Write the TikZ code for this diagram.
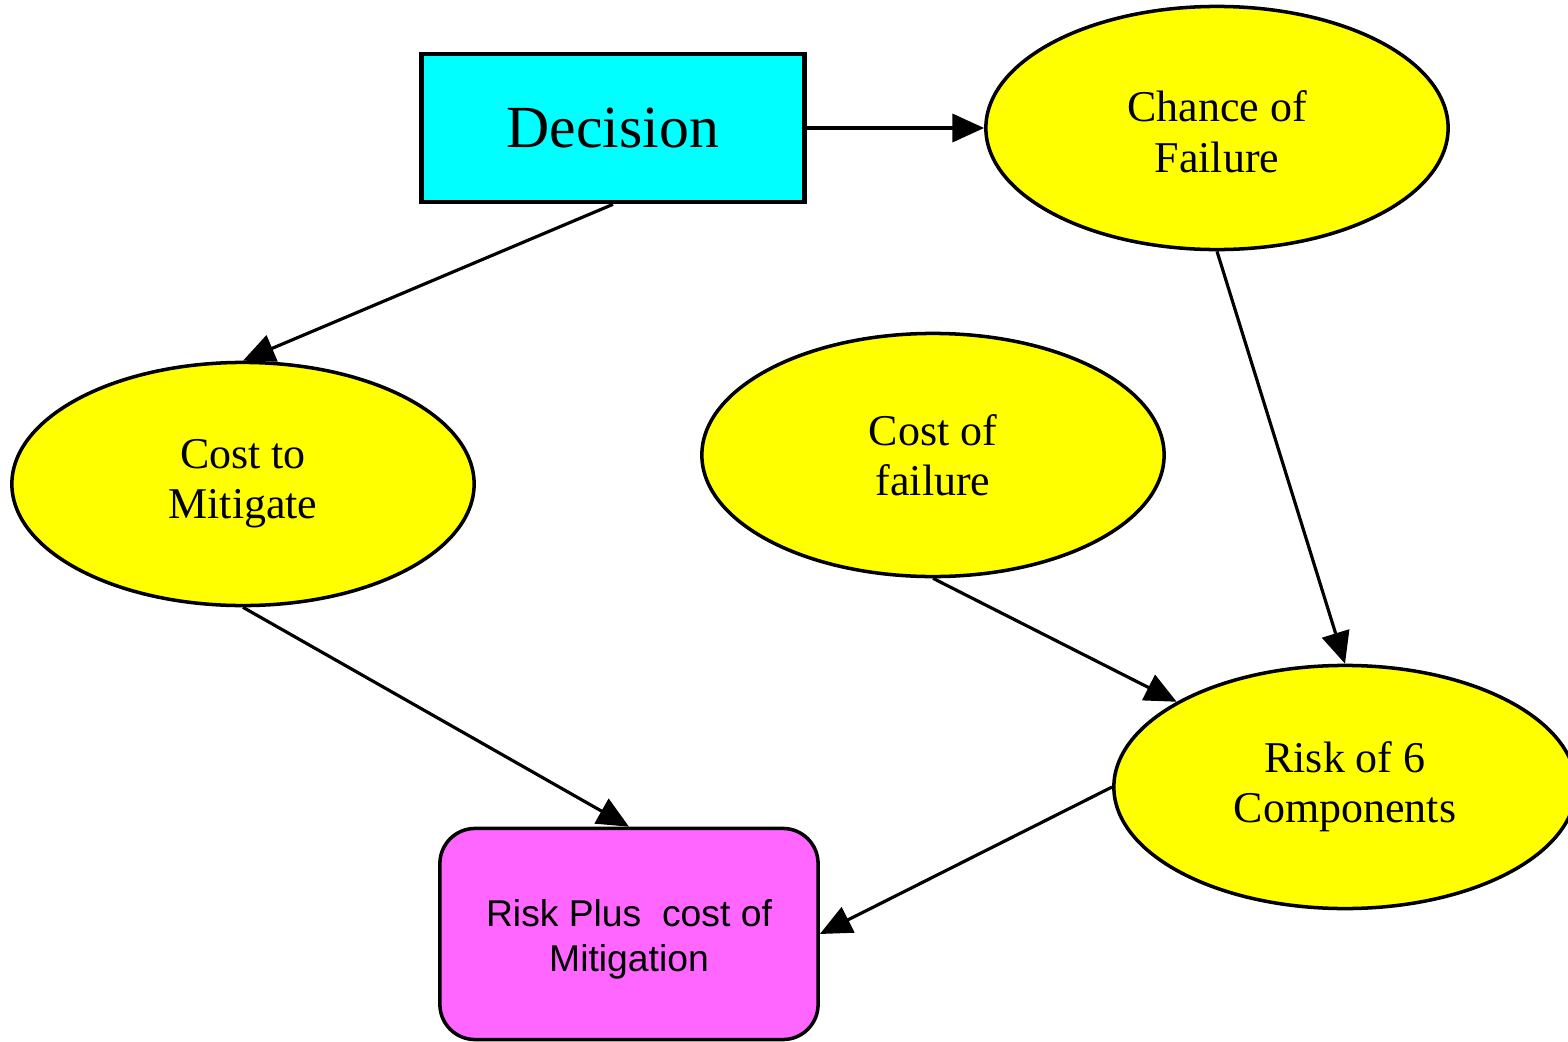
\documentclass[tikz,border=0pt]{standalone}
\usepackage{fontspec}
\setmainfont{Liberation Serif}
\newfontfamily\arialfont{Liberation Sans}
\usetikzlibrary{shapes.geometric,arrows.meta}

\definecolor{decfill}{RGB}{0,255,255}
\definecolor{chancefill}{RGB}{255,255,0}
\definecolor{valuefill}{RGB}{255,102,255}

\tikzset{
  decisionbox/.style={rectangle, draw, line width=1.3pt, fill=decfill,
    minimum width=3.83cm, minimum height=1.48cm, inner sep=0pt,
    font=\fontsize{17}{20}\selectfont},
  chancenode/.style={ellipse, draw, line width=1pt, fill=chancefill,
    minimum width=4.62cm, minimum height=2.43cm, inner sep=0pt, align=center,
    font=\fontsize{12.5}{14.3}\selectfont},
  valuebox/.style={rectangle, rounded corners=10pt, draw, line width=1pt,
    fill=valuefill, minimum width=3.78cm, minimum height=2.11cm, inner sep=0pt,
    align=center, font=\arialfont\fontsize{10.6}{12.8}\selectfont}
}

\begin{document}
\begin{tikzpicture}[x=0.01cm, y=-0.01cm, line width=0.9pt,
    >={Triangle[length=9pt, width=8pt]}]
    \useasboundingbox (0,0) rectangle (1568,1042);
    % Nodes
    \node[decisionbox] (dec) at (613,128) {Decision};
    \node[chancenode] (chance) at (1217,128) {\rule{0pt}{11pt}Chance of\\Failure};
    \node[chancenode] (mitigate) at (243,484) {Cost to\\Mitigate};
    \node[chancenode] (costfail) at (933,455) {Cost of\\failure};
    \node[chancenode] (risk) at (1345,787) {Risk of 6\\Components};
    \node[valuebox] (total) at (629,934) {\rule{0pt}{11pt}Risk Plus~ cost of\\Mitigation};
    % Arrows
    \draw[->] (dec.east) -- (chance.west);
    \draw[->] (dec.south) -- (mitigate.north);
    \draw[->] (chance.south) -- (risk.north);
    \draw[->] (costfail.south) -- (risk);
    \draw[->] (mitigate.south) -- (total.north);
    \draw[->] (risk.west) -- (total.east);
\end{tikzpicture}
\end{document}
